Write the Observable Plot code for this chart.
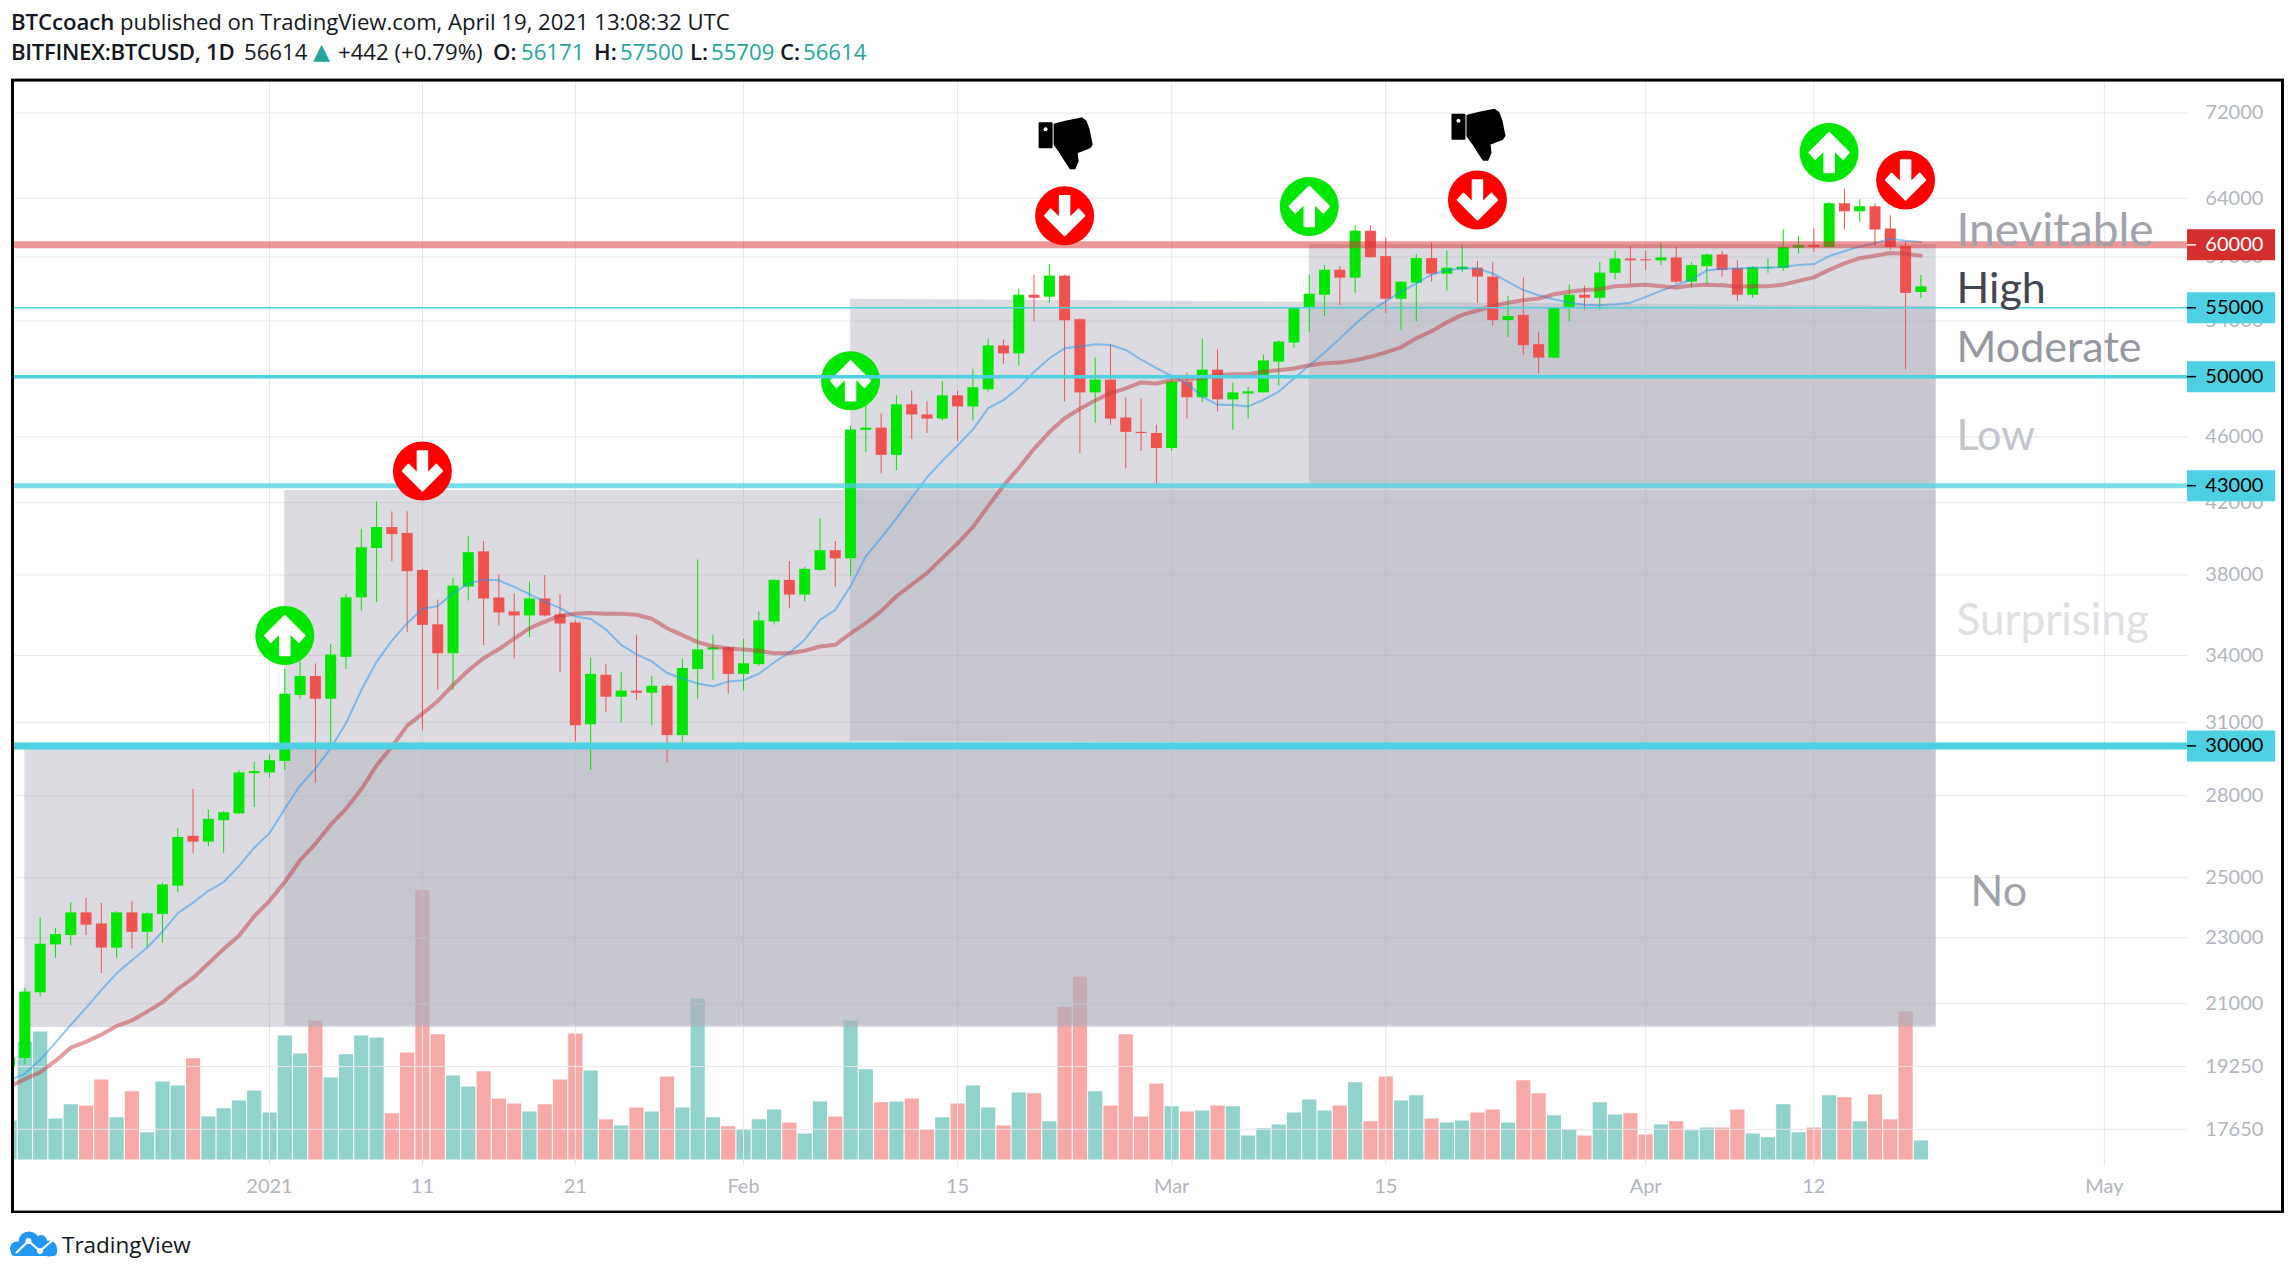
<!DOCTYPE html>
<html><head><meta charset="utf-8">
<script src="https://cdn.jsdelivr.net/npm/d3@7"></script>
<script src="https://cdn.jsdelivr.net/npm/@observablehq/plot@0.6"></script>
<style>
html,body{margin:0;padding:0;background:#fff;width:2294px;height:1278px;overflow:hidden;font-family:"Open Sans",sans-serif;color:#131722}
#hdr{position:relative;height:78px;font-size:22.2px;line-height:30px;white-space:pre}
#hdr div,#hdr span.p{position:absolute}
#hdr b{font-weight:600}
#hdr .t{color:#26a69a}
#hdr .tri{color:#26a69a;font:22px/30px "DejaVu Sans",sans-serif}
#stage{position:relative;width:2294px;height:1135px}
#stage svg{position:absolute;left:0;top:0;background:transparent}
#ftr{position:absolute;left:0;top:1215px;width:300px;height:60px}
#ftr span{position:absolute;left:62px;top:13px;font:22.5px/34px "Open Sans",sans-serif;color:#131722}
</style></head><body>
<div id="hdr">
<div style="left:11px;top:7px;letter-spacing:-0.05px"><b>BTCcoach</b> published on TradingView.com, April 19, 2021 13:08:32 UTC</div>
<span class="p" style="left:11px;top:37px;letter-spacing:-0.3px"><b>BITFINEX:BTCUSD, 1D</b></span>
<span class="p" style="left:244px;top:37px">56614</span>
<span class="p tri" style="left:313px;top:37px">▲</span>
<span class="p" style="left:338px;top:37px">+442 (+0.79%)</span>
<span class="p" style="left:493px;top:37px"><b>O:</b></span>
<span class="p t" style="left:521px;top:37px">56171</span>
<span class="p" style="left:594px;top:37px"><b>H:</b></span>
<span class="p t" style="left:620px;top:37px">57500</span>
<span class="p" style="left:690px;top:37px"><b>L:</b></span>
<span class="p t" style="left:711px;top:37px">55709</span>
<span class="p" style="left:780px;top:37px"><b>C:</b></span>
<span class="p t" style="left:803px;top:37px">56614</span>
</div>
<div id="stage"></div>
<div id="ftr"><svg width="60" height="60" style="position:absolute;left:0;top:0"><g fill="#2196f3"><circle cx="29" cy="27" r="10.5"/><circle cx="17" cy="33.5" r="7"/><circle cx="49" cy="33.5" r="8"/><rect x="11" y="31" width="46" height="10" rx="4"/><circle cx="41" cy="26" r="6"/></g><path d="M16 38L28.5 26L40 36L54 24" fill="none" stroke="#fff" stroke-width="2.2"/><circle cx="28.5" cy="26" r="3" fill="#fff"/><circle cx="40" cy="36" r="3" fill="#fff"/></svg><span>TradingView</span></div>
<script>
// Daily candles, 15 Dec 2020 to 19 Apr 2021 (BITFINEX:BTCUSD)
const firstDay = Date.UTC(2020, 11, 15);
const opens = [19250,19470,21320,22780,23080,23810,23450,22680,23810,23180,23760,24710,26470,26260,27050,27310,28870,28900,29360,32170,33020,32000,33910,36820,39420,40580,40250,38240,35470,34080,37370,39240,36810,36110,35910,36760,35960,35560,30890,33080,32090,32360,32270,32580,30430,33340,34260,34360,33120,33570,35610,37720,36960,38240,39300,38860,46420,46560,44840,48090,47420,47150,48690,47950,49100,52170,51600,55960,55810,57460,54100,48890,49760,47220,46290,46220,45270,49620,48560,50450,48420,48820,48890,51020,52380,55030,55960,57930,57300,61130,59030,55650,56900,58870,57610,57980,58090,57380,54030,54420,52260,51300,55030,55960,55730,57680,58840,58770,58690,58920,56980,58220,59160,58070,55960,58070,58070,59710,59950,59790,63510,62810,63250,61340,59870,56171];
const highs = [19570,21460,23640,23310,24150,24290,24120,23850,24180,23810,24820,26760,28250,27450,27400,29000,29320,29640,33350,33790,33600,34510,37000,40480,42040,41470,41470,38300,36710,37820,40080,39800,38020,37010,37620,37970,36980,35670,33880,33570,33210,34970,33030,32630,33840,38800,34970,34400,34770,36110,37750,38720,38410,41080,39800,46690,48200,47490,48690,49020,48290,49670,49000,50520,52670,52600,56440,57530,58400,57530,54170,51300,52240,48560,48490,46750,49820,50240,52670,51880,49560,49290,51520,52520,55000,57530,58320,58240,61620,61620,60570,57000,59180,60160,59510,60000,58630,58550,55890,57300,53150,55000,56750,56670,58550,59470,59870,59470,60120,59790,58530,59240,59470,58690,58220,58840,61250,60730,61340,63600,64800,63860,63510,62460,60200,57500];
const lows = [19100,19300,21200,22360,22750,23080,21900,22360,22650,22700,22830,24480,25840,26090,25860,27280,27550,28700,29000,32000,28500,30000,33350,36160,36580,38710,35090,30640,32400,32400,36660,34470,35410,33840,34860,35860,33210,30180,29000,31420,30970,31960,30850,29290,30140,32000,32850,32230,32360,33480,35460,36260,36610,38200,37370,37920,45020,43710,43900,45830,46220,47020,45710,47020,48950,50880,50740,53950,55330,48290,44960,46890,46750,44020,45080,43090,45080,47150,48220,47620,46420,47150,48890,49360,52020,53170,54340,55180,56120,58900,54560,53290,53950,56980,56280,57770,55340,53640,52780,51460,50210,51250,53950,54800,54800,57160,56820,57910,58300,56820,56510,56820,57370,55490,55720,57680,57840,59240,59400,59710,61250,61920,59870,59550,50460,55709];
const closes = [19480,21340,22800,23110,23810,23410,22680,23810,23180,23780,24750,26430,26260,27100,27350,28900,28950,29390,32220,33020,32000,34020,36820,39460,40580,40190,38180,35440,34080,37420,39190,36760,36060,35910,36760,35910,35510,30850,33120,32090,32360,32270,32580,30430,33390,34260,34360,33120,33610,35660,37720,36960,38300,39300,38860,46440,46560,44840,48090,47420,47150,48690,47950,49240,52170,51600,55960,55730,57460,54020,48890,49760,47150,46290,46220,45270,49620,48560,50450,48420,48890,48960,51100,52450,54950,56040,57930,57300,61130,58950,55650,56980,58870,57610,58090,58170,57380,54030,54340,52190,51300,54950,55960,55730,57700,58840,58690,58690,58920,56980,58300,59160,57910,55960,58140,58140,59790,59950,59790,63510,62810,63250,61250,59790,56100,56614];
const volumes = [9600,28900,31500,10100,13600,13300,19700,10400,16800,6700,19200,18200,24900,10600,12600,14500,17000,11600,30500,26100,34200,20200,25900,30500,30000,11400,26300,66200,30800,20700,18000,21700,15000,13800,11800,13600,19700,31000,21900,9900,8400,12800,11800,20400,12800,39600,10400,8200,7400,9900,12300,9100,6400,14300,10600,34200,22200,14100,14300,15000,7400,10400,13800,18200,12800,8400,16500,16300,9400,37600,45000,16800,13300,30800,10600,18700,13100,11800,12100,13300,13100,5900,7700,8600,11600,14800,12100,13300,19000,9400,20400,14500,15800,10100,9100,9600,11600,12300,9100,19500,16300,10900,7400,5900,14100,11100,11400,6200,8600,9400,7200,7900,7900,12300,6400,5500,13600,6700,7900,15800,15300,9400,16000,9900,36400,4700];
const maFast = [18890,19060,19430,19900,20390,20880,21400,21900,22300,22700,23200,23800,24150,24550,24850,25400,26060,26590,27500,28400,29070,29900,30950,32400,33700,34700,35550,36250,36410,37050,37550,37750,37720,37380,37010,36630,36300,35880,35760,35240,34500,34050,33720,33180,32930,32700,32580,32790,32850,33150,33670,34130,34750,35710,36210,37420,39000,40000,41100,42300,43500,44500,45460,46470,47870,48400,49230,50330,51290,52000,52130,52290,52240,51880,51200,50590,50050,49530,48640,48090,48070,47980,48420,48980,49870,50770,51700,52700,53780,54740,55490,56230,56880,57590,57930,58060,58060,57670,57010,56360,55960,55650,55390,55230,55200,55260,55390,55830,56300,56750,57190,57910,58040,58070,58120,58120,58220,58350,58430,59080,59470,59870,60140,60520,60350,60230];
const maSlow = [18730,18920,19100,19400,19760,19920,20120,20360,20520,20770,21040,21430,21760,22200,22650,23070,23700,24210,24850,25610,26200,26900,27500,28250,29200,29960,30850,31360,31920,32630,33300,33870,34300,34800,35300,35630,35920,36020,36050,36020,36020,35970,35770,35300,34970,34630,34430,34330,34280,34220,34100,34100,34220,34420,34500,35050,35550,36150,36900,37500,38100,38900,39700,40600,41800,43000,44060,45250,46310,47200,47830,48380,48870,49200,49600,49530,49750,49820,49900,50100,50170,50170,50340,50450,50570,50800,50930,50980,51150,51390,51710,52070,52730,53240,53900,54460,54790,55130,55390,55570,55700,56040,56230,56360,56430,56660,56720,56770,56660,56560,56720,56770,56740,56640,56660,56660,56790,57080,57360,57960,58480,58900,59110,59320,59270,59110];

const priceTicks = [72000,64000,59000,54000,46000,42000,38000,34000,31000,28000,25000,23000,21000,19250,17650];
const timeTicks = ["2021-01-01","2021-01-11","2021-01-21","2021-02-01","2021-02-15","2021-03-01","2021-03-15","2021-04-01","2021-04-12","2021-05-01"];
const timeLabels = ["2021","11","21","Feb","15","Mar","15","Apr","12","May"];
const levels = [60000,55000,50000,43000,30000];
const levelWidths = [7,1.5,3.5,5,7];
const levelColors = ["rgba(211,47,47,0.5)","#4dd0e1","#4dd0e1","rgba(77,208,225,0.75)","#4dd0e1"];
const tagColors = ["#d32f2f","#4dd0e1","#4dd0e1","#4dd0e1","#4dd0e1"];
const tagText = ["#fff","#000","#000","#000","#000"];
const wordTexts = ["Inevitable","High","Moderate","Low","Surprising","No"];
const wordPrices = [61110,56400,51970,46020,35670,24490];
const wordDays = ["2021-04-21T08:00Z","2021-04-21T08:00Z","2021-04-21T08:00Z","2021-04-21T08:00Z","2021-04-21T08:00Z","2021-04-22T06:00Z"];
const wordColors = ["#a1a3ac","#434651","#9598a1","#c3c5cc","#dfe0e4","#a0a2aa"];
const wordSizes = [46,43,43,43,44,43];
const upSignals = [["2021-01-02",34950],["2021-03-10",63280],["2021-04-13",68180]];
const upSignalOver = [["2021-02-08",49720]];
const downSignals = [["2021-01-11",43880],["2021-02-22",62460],["2021-03-21",63850],["2021-04-18",65640]];
const thumbs = [["2021-02-22",68950],["2021-03-21",69770]];

const day = s => new Date(s);
const rows = opens.map((o,i)=>({date:new Date(firstDay+i*864e5),o,h:highs[i],l:lows[i],c:closes[i],v:volumes[i],f:maFast[i],s:maSlow[i]}));
const UP="#00e600", DOWN="#ef5350", BOX="rgb(172,174,186)", BOXA=0.44;
const xOpts = {type:"utc",domain:[new Date("2020-12-15T04:34Z"),new Date("2021-05-12T15:36Z")],range:[12,2282]};
const axisEnd = new Date("2021-05-06T10:34Z"), tagEnd = new Date("2021-05-12T04:48Z"), tickEnd = new Date("2021-05-07T00:43Z"), labelX = new Date("2021-05-09T12:00Z");
const left = xOpts.domain[0];
const boxEnd = day("2021-04-20");
const axisFont="Lato, sans-serif";

const poly = (pts)=>({draw(ctx){pts.forEach((p,i)=> i?ctx.lineTo(p[0],p[1]):ctx.moveTo(p[0],p[1]));ctx.closePath();}});
const arrowDown=[[-5,-20],[5,-20],[5,2.3],[14,-6.7],[20,0],[0,20],[-20,0],[-14,-6.7],[-5,2.3]];
const arrowUp=arrowDown.map(p=>[p[0],-p[1]]);
const thumbHand=[[-10,-20],[2,-23],[17,-26],[21,-23],[24,-15],[27,0],[25,3],[15,7],[12,8],[13,17],[10,24],[6,24],[2,18],[-5,7],[-10,0]];
const thumbSym=poly(thumbHand);
const cuffSym=poly([[-25,-21],[-13,-21],[-13,3],[-25,3]]);
const signalMark=(arr,fill,sym)=>[
  Plot.dot(arr,{x:d=>day(d[0]),y:d=>d[1],r:29.5,fill}),
  Plot.dot(arr,{x:d=>day(d[0]),y:d=>d[1],r:1,fill:"#fff",stroke:"#fff",strokeWidth:1.5,strokeLinejoin:"round",symbol:poly(sym)})
];

const volPlot = Plot.plot({
  width:2294,height:1135,marginLeft:12,marginRight:12,marginTop:1.6,marginBottom:1.4,
  style:{background:"transparent"},
  x:{...xOpts,axis:null},
  y:{domain:[0,66200],range:[1081.6,812.3],axis:null},
  marks:[
    Plot.ruleX(rows,{x:"date",y1:0,y2:"v",strokeWidth:14.2,stroke:d=>d.c>=d.o?"rgba(38,166,154,0.5)":"rgba(239,83,80,0.5)",clip:"frame"})
  ]
});

const mainPlot = Plot.plot({
  width:2294,height:1135,marginLeft:12,marginRight:12,marginTop:1.6,marginBottom:1.4,
  style:{background:"transparent",fontFamily:axisFont},
  x:{...xOpts,axis:null},
  y:{type:"log",domain:[15740,75360],range:[1133.6,1.6],axis:null},
  marks:[
    Plot.ruleY(priceTicks,{x1:left,x2:axisEnd,stroke:"#e6e6ea",strokeWidth:1}),
    Plot.ruleX(timeTicks.map(day),{y1:16780,y2:75360,stroke:"#e6e6ea",strokeWidth:1}),
    Plot.rect([0],{x1:day("2020-12-16"),x2:boxEnd,y1:30000,y2:20320,fill:BOX,fillOpacity:BOXA}),
    Plot.rect([0],{x1:day("2021-01-02"),x2:boxEnd,y1:42720,y2:20370,fill:BOX,fillOpacity:BOXA}),
    Plot.areaY([{x:day("2021-02-08"),a:55650,b:30200},{x:boxEnd,a:55120,b:30000}],{x:"x",y1:"a",y2:"b",fill:BOX,fillOpacity:BOXA}),
    Plot.rect([0],{x1:day("2021-03-10"),x2:boxEnd,y1:60000,y2:43090,fill:BOX,fillOpacity:BOXA}),
    Plot.ruleX(rows,{x:"date",y1:"l",y2:"h",stroke:d=>d.c>=d.o?UP:DOWN,strokeWidth:1,clip:"frame"}),
    Plot.ruleX(rows,{x:"date",y1:"o",y2:"c",stroke:d=>d.c>=d.o?UP:DOWN,strokeWidth:11,clip:"frame"}),
    Plot.lineY(rows,{x:"date",y:"f",stroke:"rgba(33,150,243,0.5)",strokeWidth:2,clip:"frame"}),
    Plot.lineY(rows,{x:"date",y:"s",stroke:"rgba(195,60,65,0.5)",strokeWidth:4,clip:"frame"}),
    ...signalMark(upSignalOver,UP,arrowUp),
    Plot.ruleY(levels,{x1:left,x2:axisEnd,stroke:(d,i)=>levelColors[i],strokeWidth:(d,i)=>levelWidths[i]}),
    ...signalMark(upSignals,UP,arrowUp),
    ...signalMark(downSignals,"#ff0000",arrowDown),
    Plot.dot(thumbs,{x:d=>day(d[0]),y:d=>d[1],r:1,fill:"#000",stroke:"#000",strokeWidth:2,strokeLinejoin:"round",symbol:thumbSym}),
    Plot.dot(thumbs,{x:d=>day(d[0]),y:d=>d[1],r:1,fill:"#000",stroke:"#000",strokeWidth:2,strokeLinejoin:"round",symbol:cuffSym}),
    Plot.dot(thumbs,{x:d=>day(d[0]),y:d=>d[1],r:2,fill:"#fff",dx:-19,dy:-15}),
    Plot.text(priceTicks,{x:labelX,y:d=>d,text:d=>String(d),fill:"#b2b5be",fontSize:20}),
    Plot.ruleY(levels,{x1:axisEnd,x2:tagEnd,stroke:(d,i)=>tagColors[i],strokeWidth:31}),
    Plot.ruleY(levels,{x1:axisEnd,x2:tickEnd,stroke:(d,i)=>tagText[i],strokeWidth:1.5}),
    Plot.text(levels,{x:labelX,y:d=>d,text:d=>String(d),fill:(d,i)=>tagText[i],fontSize:20}),
    Plot.text(timeTicks,{x:day,y:16296,text:(d,i)=>timeLabels[i],fill:"#b2b5be",fontSize:20,fontWeight:(d,i)=>i===0?700:400}),
    Plot.text(wordTexts,{x:(d,i)=>day(wordDays[i]),y:(d,i)=>wordPrices[i],text:d=>d,textAnchor:"start",fill:(d,i)=>wordColors[i],fontSize:(d,i)=>wordSizes[i]}),
    Plot.frame({stroke:"#000",strokeWidth:3})
  ]
});
const stage=document.getElementById("stage");
stage.append(volPlot,mainPlot);
</script>
</body></html>
